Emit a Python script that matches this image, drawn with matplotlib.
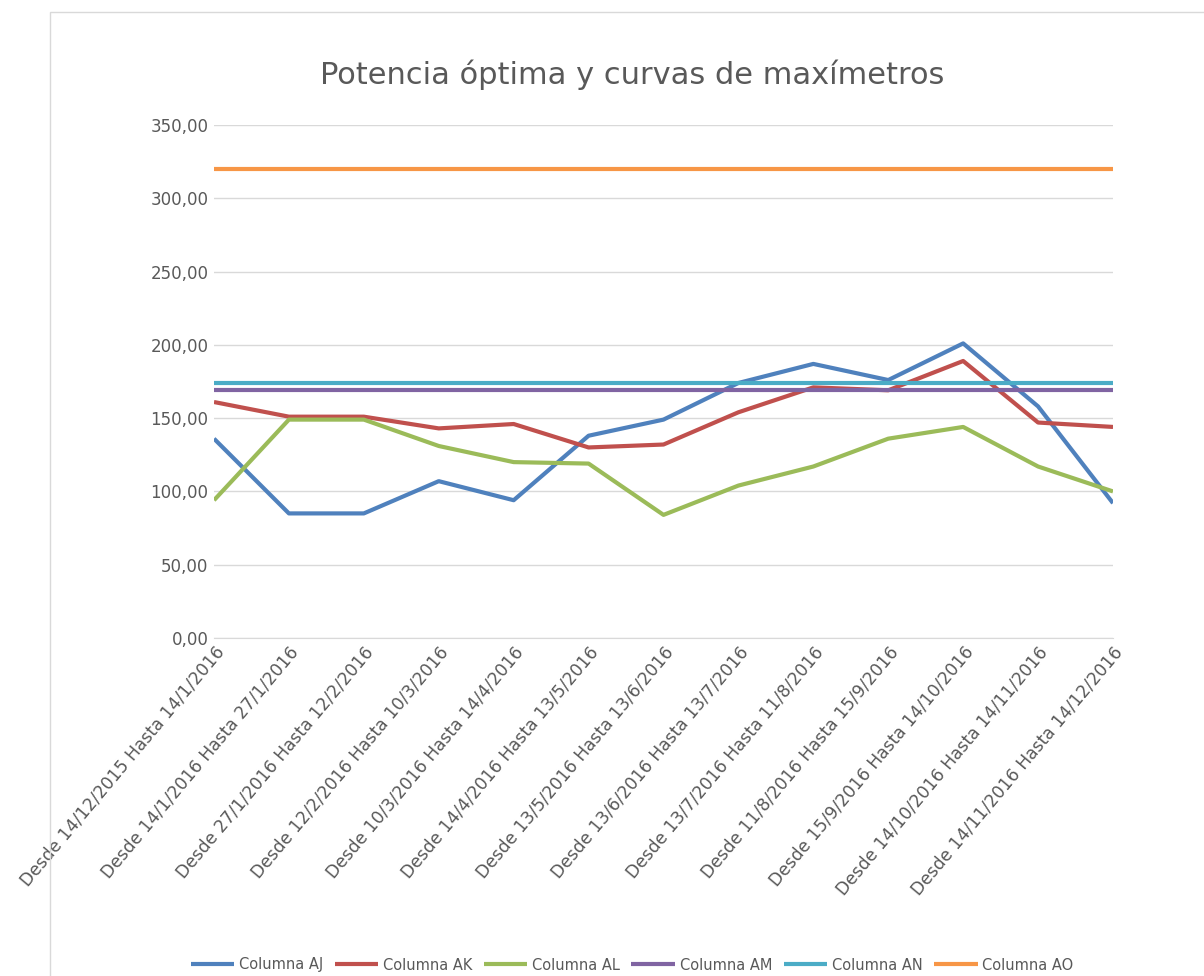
import matplotlib
matplotlib.use('Agg')
import matplotlib.pyplot as plt
from matplotlib.patches import Rectangle
from matplotlib.ticker import FuncFormatter

periodos = ['Desde 14/12/2015 Hasta 14/1/2016', 'Desde 14/1/2016 Hasta 27/1/2016',
            'Desde 27/1/2016 Hasta 12/2/2016', 'Desde 12/2/2016 Hasta 10/3/2016',
            'Desde 10/3/2016 Hasta 14/4/2016', 'Desde 14/4/2016 Hasta 13/5/2016',
            'Desde 13/5/2016 Hasta 13/6/2016', 'Desde 13/6/2016 Hasta 13/7/2016',
            'Desde 13/7/2016 Hasta 11/8/2016', 'Desde 11/8/2016 Hasta 15/9/2016',
            'Desde 15/9/2016 Hasta 14/10/2016', 'Desde 14/10/2016 Hasta 14/11/2016',
            'Desde 14/11/2016 Hasta 14/12/2016']

col_aj = [136, 85, 85, 107, 94, 138, 149, 174, 187, 176, 201, 158, 92]
col_ak = [161, 151, 151, 143, 146, 130, 132, 154, 171, 169, 189, 147, 144]
col_al = [94, 149, 149, 131, 120, 119, 84, 104, 117, 136, 144, 117, 100]
col_am = [169] * 13
col_an = [174] * 13
col_ao = [320] * 13

series = [('Columna AJ', col_aj, '#4F81BD'),
          ('Columna AK', col_ak, '#C0504D'),
          ('Columna AL', col_al, '#9BBB59'),
          ('Columna AM', col_am, '#8064A2'),
          ('Columna AN', col_an, '#4BACC6'),
          ('Columna AO', col_ao, '#F79646')]

gris = '#595959'

fig = plt.figure(figsize=(12.04, 9.76), dpi=100)
# marco del area del grafico
fig.patches.append(Rectangle((50 / 1204, -0.1), 1.2, 0.1 + (976 - 12) / 976,
                             transform=fig.transFigure, fill=False,
                             edgecolor='#D9D9D9', linewidth=1))

ax = fig.add_axes([214 / 1204, (976 - 638) / 976, (1113 - 214) / 1204, 513 / 976])

x = list(range(len(periodos)))
for nombre, valores, color in series:
    ax.plot(x, valores, color=color, linewidth=3, label=nombre, solid_capstyle='butt')

ax.set_xlim(0, len(periodos) - 1)
ax.set_ylim(0, 350)
ax.set_yticks(range(0, 351, 50))
ax.yaxis.set_major_formatter(FuncFormatter(lambda v, p: f'{v:.2f}'.replace('.', ',')))
ax.grid(axis='y', color='#D9D9D9', linewidth=1)
ax.set_axisbelow(True)
for s in ['top', 'right', 'left']:
    ax.spines[s].set_visible(False)
ax.spines['bottom'].set_color('#D9D9D9')
ax.tick_params(axis='both', length=0, colors=gris, labelsize=12)
ax.tick_params(axis='y', pad=4)
ax.set_xticks(x)
ax.set_xticklabels(periodos, rotation=50, ha='right', rotation_mode='anchor', fontsize=12.3)

fig.text(632 / 1204, 1 - 75 / 976, 'Potencia óptima y curvas de maxímetros',
         ha='center', va='center', fontsize=22, color=gris)

fig.legend(loc='center', bbox_to_anchor=(632 / 1204, 11 / 976), ncol=6, frameon=False,
           fontsize=10.5, handlelength=3.0, columnspacing=0.8, handletextpad=0.3,
           labelcolor=gris)

fig.savefig('out.png', dpi=100)
